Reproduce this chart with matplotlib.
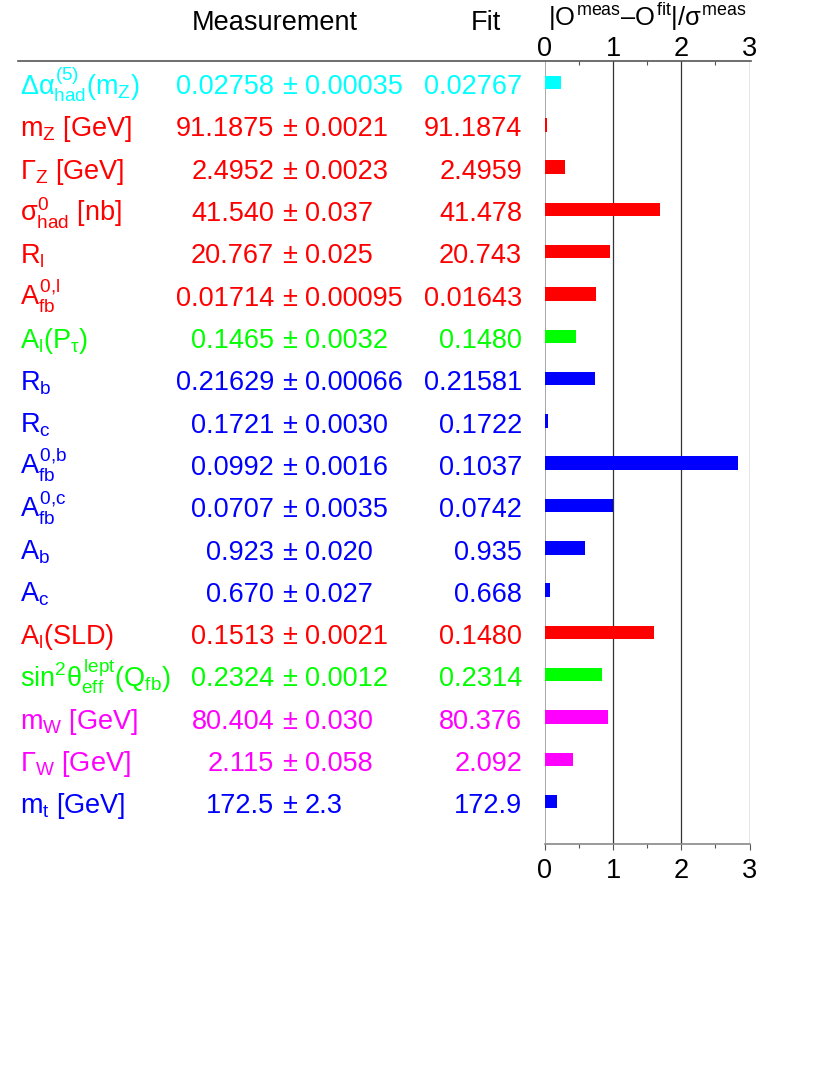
import matplotlib
matplotlib.use('Agg')
import matplotlib.pyplot as plt
import matplotlib.transforms as mtransforms
from matplotlib.lines import Line2D

# ---- data ----
LABELS = [
    r'$\Delta\alpha^{(5)}_{\rm had}(m_Z)$',
    r'$m_Z$ [GeV]',
    r'$\Gamma_Z$ [GeV]',
    r'$\sigma^0_{\rm had}$ [nb]',
    r'$R_l$',
    r'$A^{0{,}l}_{\rm fb}$',
    r'$A_l(P_\tau)$',
    r'$R_b$',
    r'$R_c$',
    r'$A^{0{,}b}_{\rm fb}$',
    r'$A^{0{,}c}_{\rm fb}$',
    r'$A_b$',
    r'$A_c$',
    r'$A_l$(SLD)',
    r'$\mathrm{sin}^2\theta^{\rm lept}_{\rm eff}(Q_{\rm fb})$',
    r'$m_W$ [GeV]',
    r'$\Gamma_W$ [GeV]',
    r'$m_t$ [GeV]',
]
MEAS_VAL = ['0.02758', '91.1875', '2.4952', '41.540', '20.767', '0.01714',
            '0.1465', '0.21629', '0.1721', '0.0992', '0.0707', '0.923',
            '0.670', '0.1513', '0.2324', '80.404', '2.115', '172.5']
MEAS_ERR = ['0.00035', '0.0021', '0.0023', '0.037', '0.025', '0.00095',
            '0.0032', '0.00066', '0.0030', '0.0016', '0.0035', '0.020',
            '0.027', '0.0021', '0.0012', '0.030', '0.058', '2.3']
FIT_VAL = ['0.02767', '91.1874', '2.4959', '41.478', '20.743', '0.01643',
           '0.1480', '0.21581', '0.1722', '0.1037', '0.0742', '0.935',
           '0.668', '0.1480', '0.2314', '80.376', '2.092', '172.9']
PULLS = [0.24, 0.03, 0.29, 1.68, 0.96, 0.75, 0.46, 0.74, 0.05, 2.83,
         1.00, 0.58, 0.07, 1.60, 0.84, 0.93, 0.41, 0.17]

# row colours (groups of observables)
CYAN, RED, GREEN, BLUE, MAGENTA = '#00ffff', '#ff0000', '#00ff00', '#0000ff', '#ff00ff'
COLORS = [CYAN, RED, RED, RED, RED, RED, GREEN, BLUE, BLUE, BLUE, BLUE,
          BLUE, BLUE, RED, GREEN, MAGENTA, MAGENTA, BLUE]

# ---- style ----
plt.rcParams['font.family'] = ['Liberation Sans', 'DejaVu Sans']
plt.rcParams['mathtext.fontset'] = 'custom'
plt.rcParams['mathtext.rm'] = 'Liberation Sans'
plt.rcParams['mathtext.it'] = 'Liberation Sans'
plt.rcParams['mathtext.bf'] = 'Liberation Sans:bold'
plt.rcParams['mathtext.sf'] = 'Liberation Sans'

FS = 19.5
W, H = 830, 1075
DPI = 100

fig = plt.figure(figsize=(W / DPI, H / DPI), dpi=DPI)
fig.patch.set_facecolor('white')

# axes placement in pixels
x0_px, x3_px = 545, 749.5
top_px, bot_px = 61, 844
ax = fig.add_axes([x0_px / W, 1 - bot_px / H, (x3_px - x0_px) / W, (bot_px - top_px) / H])

n = len(PULLS)
row0_px, row_step = 82.5, 42.3
ax.set_xlim(0, 3)
ax.set_ylim((bot_px - row0_px) / row_step, (top_px - row0_px) / row_step)

ax.barh(range(n), PULLS, height=0.32, color=COLORS, edgecolor='none', zorder=3)

# vertical grid lines
ax.axvline(0, color='#a0a0a0', lw=1.3, zorder=2)
for v in (1, 2, 3):
    ax.axvline(v, color='#333333', lw=0.9, zorder=2)

for s in ('left', 'right', 'top'):
    ax.spines[s].set_visible(False)
ax.spines['bottom'].set_color('#888888')
ax.spines['bottom'].set_linewidth(1.2)

ax.set_yticks([])
ax.set_xticks([0, 1, 2, 3])
ax.set_xticks([0.5, 1.5, 2.5], minor=True)
ax.tick_params(axis='x', which='both', top=False, bottom=True, labelsize=FS,
               colors='black', color='#555555', direction='out', width=0.8)
ax.tick_params(axis='x', which='major', length=4, pad=6)
ax.tick_params(axis='x', which='minor', length=3)

# top scale
sec = ax.secondary_xaxis('top')
sec.set_xticks([0, 1, 2, 3])
sec.set_xticks([0.5, 1.5, 2.5], minor=True)
sec.tick_params(axis='x', which='both', direction='in', labelsize=FS,
                color='#555555', width=0.8)
sec.tick_params(axis='x', which='major', length=0, pad=-1)
sec.tick_params(axis='x', which='minor', length=3)
sec.spines['top'].set_visible(False)

# header line running over the text columns and the scale
fig.add_artist(Line2D([18 / W, (x3_px + 1) / W], [1 - top_px / H, 1 - top_px / H],
                      color='#555555', lw=1.2))

# text columns: x in figure pixels, y in data rows
trans = mtransforms.blended_transform_factory(
    mtransforms.Affine2D().scale(1 / W, 1) + fig.transFigure, ax.transData)
base_off = 11.7 / row_step

for i in range(n):
    y = i + base_off
    c = COLORS[i]
    kw = dict(transform=trans, fontsize=FS, color=c, va='baseline', clip_on=False)
    ax.text(20, y, LABELS[i], ha='left', **kw)
    ax.text(274, y, MEAS_VAL[i], ha='right', **kw)
    ax.text(290, y, '\u00b1', ha='center', **kw)
    ax.text(305, y, MEAS_ERR[i], ha='left', **kw)
    ax.text(522, y, FIT_VAL[i], ha='right', **kw)

# column headers
fig.text(274.5 / W, 1 - 29.5 / H, 'Measurement', ha='center', va='baseline', fontsize=FS)
fig.text(486 / W, 1 - 29.5 / H, 'Fit', ha='center', va='baseline', fontsize=FS)
fig.text(647 / W, 1 - 26 / H,
         r'$|O^{\rm meas}$' + '\u2013' + r'$O^{\rm fit}|/\sigma^{\rm meas}$',
         ha='center', va='baseline', fontsize=18.4)

fig.savefig('out.png', dpi=DPI, facecolor='white')
